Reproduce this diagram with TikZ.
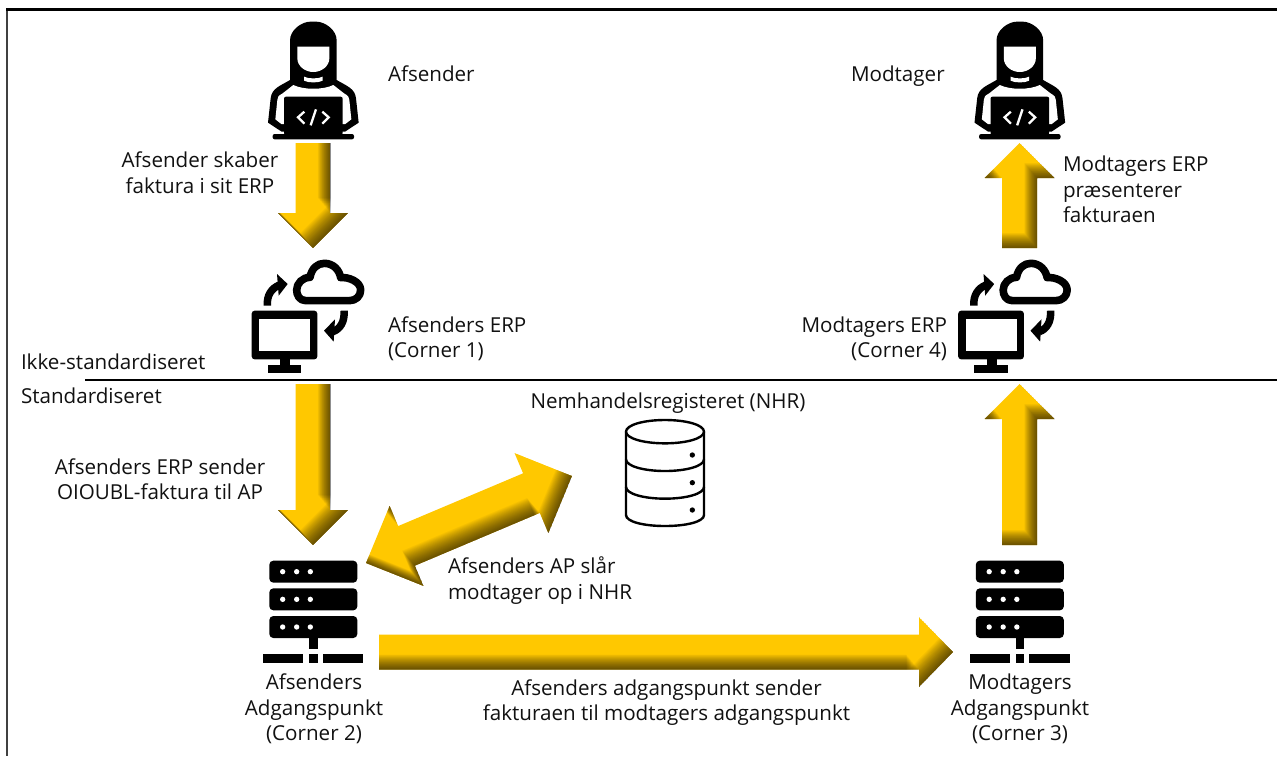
\documentclass[tikz,border=0pt]{standalone}
\usepackage{fontspec}
\setmainfont{Open Sans}
\usetikzlibrary{calc}
\definecolor{arrowgold}{HTML}{FFC800}
\definecolor{inktext}{HTML}{111111}
\newcommand{\blockarrow}[6]{%
  \path let \p1=($(#2)-(#1)$),\p2=(#1) in \pgfextra{%
    \pgfmathsetmacro\tmpL{veclen(\x1,\y1)}%
    \pgfmathsetmacro\tmpA{atan2(\y1,\x1)}%
    \pgfmathsetmacro\tmpX{\x2}%
    \pgfmathsetmacro\tmpY{\y2}%
    \global\let\ArLen\tmpL\global\let\ArAng\tmpA\global\let\ArX\tmpX\global\let\ArY\tmpY};
  \pgfmathsetmacro\ArH{\ArLen-#5}%
  \ifnum#6=1
    \edef\ArPoly{(0,0) -- (#5,-#4) -- (#5,-#3) -- (\ArH,-#3) -- (\ArH,-#4) -- (\ArLen,0) -- (\ArH,#4) -- (\ArH,#3) -- (#5,#3) -- (#5,#4) -- cycle}%
  \else
    \edef\ArPoly{(0,-#3) -- (\ArH,-#3) -- (\ArH,-#4) -- (\ArLen,0) -- (\ArH,#4) -- (\ArH,#3) -- (0,#3) -- cycle}%
  \fi
  \begin{scope}
    \clip[shift={(\ArX pt,\ArY pt)},rotate=\ArAng] \ArPoly;
    \fill[arrowgold,shift={(\ArX pt,\ArY pt)},rotate=\ArAng] \ArPoly;
    \foreach \k in {1,...,22}{%
      \pgfmathsetmacro\sx{\ArX-0.85*0.68*\k}%
      \pgfmathsetmacro\sy{\ArY+0.68*\k}%
      \fill[black,fill opacity=0.037,even odd rule,shift={(\sx pt,\sy pt)},rotate=\ArAng]
        (-1600,-1600) rectangle (1600,1600) \ArPoly;
    }%
  \end{scope}%
}
\tikzset{
  x=1pt,y=-1pt,
  lbl/.style={inner sep=0,outer sep=0,text=inktext,font=\fontsize{20.6}{25.5}\selectfont,align=#1,execute at begin node=\strut,execute at end node=\strut},
  lbl/.default=left,
  iconbox/.style={inner sep=0,outer sep=0,minimum width=#1},
  person/.pic={
    \begin{scope}[scale=1/3,shift={(-219,-247.5)}]
      \fill[black,rounded corners=3pt] (150,250) -- (150,130) .. controls (150,90) and (185,65) .. (220,65) .. controls (255,65) and (290,90) .. (290,130) -- (290,250) -- cycle;
      \fill[black] (150,240) .. controls (120,258) and (95,265) .. (92,295) -- (84,368) -- (125,395) -- (315,395) -- (356,368) -- (348,295) .. controls (345,265) and (320,258) .. (290,240) -- cycle;
      \fill[white] (160,255) .. controls (190,270) and (250,270) .. (280,255) -- (312,280) .. controls (325,287) and (328,292) .. (328,300) -- (334,358) -- (316,372) -- (124,372) -- (106,358) -- (112,300) .. controls (112,292) and (115,287) .. (128,280) -- cycle;
      \fill[white] (172,140) -- (268,140) -- (268,175) .. controls (268,198) and (245,216) .. (220,216) .. controls (195,216) and (172,198) .. (172,175) -- cycle;
      \fill[white] (192,230) .. controls (205,237) and (235,237) .. (248,230) -- (248,242) .. controls (235,249) and (205,249) .. (192,242) -- cycle;
      \fill[black,rounded corners=2pt] (132,290) rectangle (308,405);
      \fill[black,rounded corners=2pt] (98,402) rectangle (342,418);
      \draw[white,line width=2.3pt] (193,335) -- (174,352) -- (193,371);
      \draw[white,line width=2.3pt] (228,328) -- (212,376);
      \draw[white,line width=2.3pt] (247,335) -- (266,352) -- (247,371);
    \end{scope}
  },
  erpicon/.pic={
    \begin{scope}[scale=1/3,shift={(-249,-228)}]
      \fill[black,rounded corners=3pt] (65,212) rectangle (262,358);
      \fill[white] (88,238) rectangle (240,333);
      \fill[black] (150,358) rectangle (180,376);
      \fill[black] (113,375) rectangle (213,400);
      \draw[black,line width=7.6pt,line join=round,fill=white] (228,182) .. controls (208,182) and (200,165) .. (200,150) .. controls (200,130) and (218,112) .. (240,112) .. controls (245,85) and (262,70) .. (283,70) .. controls (310,70) and (328,90) .. (332,113) .. controls (355,110) and (392,125) .. (392,150) .. controls (392,168) and (378,182) .. (358,182) -- cycle;
      \draw[black,line width=7.5pt] (112,197) .. controls (110,165) and (125,145) .. (148,135);
      \fill[black] (141,102) -- (173,132) -- (146,167) -- cycle;
      \draw[black,line width=7.5pt] (342,212) .. controls (345,245) and (330,268) .. (308,275);
      \fill[black] (315,238) -- (282,272) -- (311,305) -- cycle;
    \end{scope}
  },
  servericon/.pic={
    \begin{scope}[scale=1/3,shift={(-219,-312)}]
      \foreach \yy in {182,265,348}{
        \fill[black,rounded corners=4pt] (88,\yy) rectangle (352,\yy+66);
        \foreach \xx in {128,170,211}{\fill[white] (\xx,\yy+33) circle[radius=8];}
      }
      \fill[black] (207,414) rectangle (233,448);
      \fill[black] (70,463) rectangle (190,488);
      \fill[black] (207,463) rectangle (233,488);
      \fill[black] (248,463) rectangle (370,488);
    \end{scope}
  },
  dbicon/.pic={
    \begin{scope}[scale=1/3,shift={(-945,-219)}]
      \draw[black,line width=2.4pt,line join=round] (828,95) .. controls (828,75) and (880,60) .. (945,60) .. controls (1010,60) and (1062,75) .. (1062,95) .. controls (1062,115) and (1010,130) .. (945,130) .. controls (880,130) and (828,115) .. (828,95) -- cycle;
      \draw[black,line width=2.4pt] (828,95) -- (828,345) .. controls (828,365) and (880,378) .. (945,378) .. controls (1010,378) and (1062,365) .. (1062,345) -- (1062,95);
      \foreach \yy in {178,261}{
        \draw[black,line width=2.4pt] (828,\yy) .. controls (828,\yy+20) and (880,\yy+35) .. (945,\yy+35) .. controls (1010,\yy+35) and (1062,\yy+20) .. (1062,\yy);
      }
      \foreach \yy in {165,248,330}{\fill[black] (1027,\yy) circle[radius=8];}
    \end{scope}
  }
}
\begin{document}
\begin{tikzpicture}
\useasboundingbox (0,0) rectangle (1277,756);
\fill[white] (0,0) rectangle (1277,756);
% frame and divider
\draw[black!75,line width=2pt] (7,9) -- (7,756);
\draw[black,line width=3pt] (6,9) -- (1277,9);
\draw[black,line width=2pt] (85,380) -- (1277,380);
% invisible boxes that hold the icons
\node[iconbox=100,minimum height=121] (sender) at (313,82.5) {};
\node[iconbox=112,minimum height=136] (erpA) at (313,316) {};
\node[iconbox=133,minimum height=118] (apA) at (313,604) {};
\node[iconbox=100,minimum height=121] (receiver) at (1019.5,82.5) {};
\node[iconbox=112,minimum height=136] (erpB) at (1019.5,316) {};
\node[iconbox=133,minimum height=118] (apB) at (1019.5,604) {};
\node[iconbox=80,minimum height=108] (db) at (665,473) {};
% icons
\pic at (sender.center) {person};
\pic at (receiver.center) {person};
\pic at (erpA.center) {erpicon};
\pic at (erpB.center) {erpicon};
\pic at (apA.center) {servericon};
\pic at (apB.center) {servericon};
\pic at (db.center) {dbicon};
% connector ends
\coordinate (hs) at ($(apA.east)+(-0.5,48)$);
\coordinate (he) at ($(apB.west)+(0,48)$);
\coordinate (ds) at ($(apA.east)+(-13.5,-41)$);
\coordinate (de) at ($(db.west)+(-53,3)$);
% block arrows
\blockarrow{sender.south}{erpA.north}{17.5}{35}{35}{0}
\blockarrow{erpA.south}{apA.north}{17.5}{35}{35}{0}
\blockarrow{erpB.north}{receiver.south}{17.5}{35}{35}{0}
\blockarrow{apB.north}{erpB.south}{17.5}{35}{35}{0}
\blockarrow{hs}{he}{17.5}{35}{34}{0}
\blockarrow{ds}{de}{21.5}{43.5}{44}{1}
% labels
\node[lbl,anchor=west] (t1) at (388,76) {Afsender};
\node[lbl=center] (t2) at (200,176.5) {Afsender skaber\\faktura i sit ERP};
\node[lbl,anchor=west] (t3) at (388,341) {Afsenders ERP\\(Corner 1)};
\node[lbl,anchor=west] (t4) at (21,364) {Ikke-standardiseret};
\node[lbl,anchor=west] (t5) at (21,398) {Standardiseret};
\node[lbl=center] (t6) at (668,403) {Nemhandelsregisteret (NHR)};
\node[lbl=center] (t7) at (160,483) {Afsenders ERP sender\\OIOUBL-faktura til AP};
\node[lbl,anchor=west] (t8) at (448,582) {Afsenders AP slår\\modtager op i NHR};
\node[lbl=center] (t9) at (314,711) {Afsenders\\Adgangspunkt\\(Corner 2)};
\node[lbl=center] (t10) at (666.5,704) {Afsenders adgangspunkt sender\\fakturaen til modtagers adgangspunkt};
\node[lbl=center] (t11) at (1020,711) {Modtagers\\Adgangspunkt\\(Corner 3)};
\node[lbl,anchor=west] (t12) at (851,76) {Modtager};
\node[lbl,anchor=west] (t13) at (1063,193) {Modtagers ERP\\præsenterer\\fakturaen};
\node[lbl=right,anchor=east] (t14) at (947,341) {Modtagers ERP\\(Corner 4)};
\end{tikzpicture}
\end{document}
